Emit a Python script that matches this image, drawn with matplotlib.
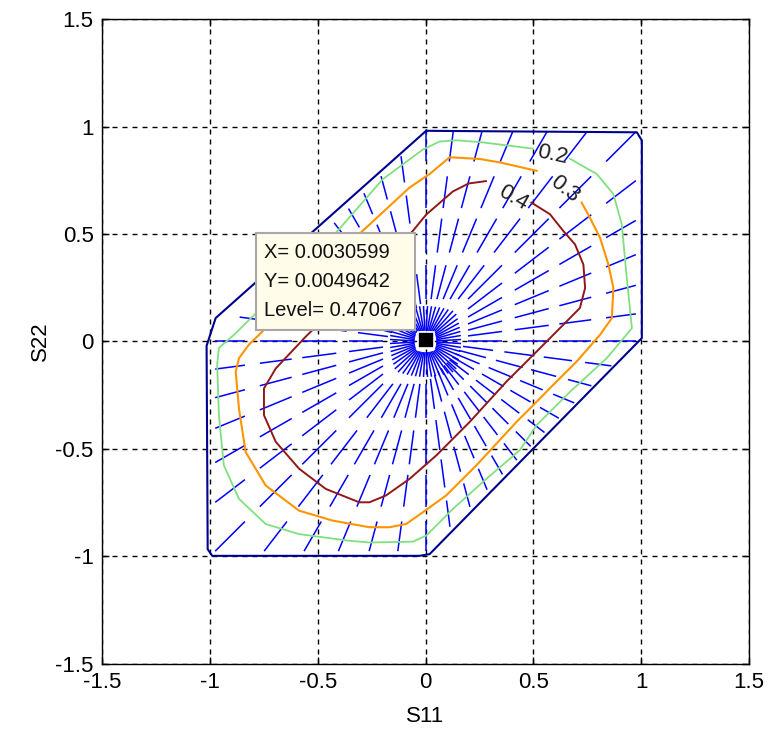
import numpy as np
import matplotlib
matplotlib.use("Agg")
import matplotlib.pyplot as plt
from matplotlib.collections import LineCollection
from matplotlib.patches import Rectangle

plt.rcParams['font.family'] = ['Liberation Sans', 'DejaVu Sans']

# ---- data ----
# outer (domain) boundary
bound_x = [0.003, 0.98, 1.003, 1.003, 0.019, -0.028, -0.989, -1.01, -1.015, -0.973, 0.003]
bound_y = [0.98, 0.973, 0.935, 0.016, -0.989, -0.997, -0.997, -0.966, -0.02, 0.109, 0.98]

# level 0.2 contour (gap where the label sits)
c02_x = [0.670, 0.794, 0.871, 0.910, 0.933, 0.957, 0.84, 0.670, 0.515, 0.437, 0.282, 0.127,
         0.003, -0.059, -0.26, -0.353, -0.586, -0.741, -0.865, -0.935, -0.958, -0.966, -0.958,
         -0.886, -0.793, -0.415, -0.199, -0.012, 0.065, 0.143, 0.267, 0.498]
c02_y = [0.850, 0.779, 0.686, 0.545, 0.296, 0.062, -0.078, -0.234, -0.389, -0.506, -0.639, -0.779,
         -0.903, -0.931, -0.935, -0.927, -0.896, -0.849, -0.732, -0.576, -0.343, -0.109, -0.03,
         0.033, 0.125, 0.506, 0.754, 0.893, 0.93, 0.936, 0.926, 0.897]

# level 0.3 contour
c03_x = [0.724, 0.760, 0.809, 0.848, 0.871, 0.864, 0.809, 0.701, 0.592, 0.484, 0.422, 0.236,
         0.096, -0.012, -0.09, -0.167, -0.26, -0.431, -0.586, -0.741, -0.834, -0.865, -0.880,
         -0.865, -0.819, -0.764, -0.292, -0.074, 0.019, 0.112, 0.251, 0.344, 0.515]
c03_y = [0.646, 0.580, 0.483, 0.358, 0.249, 0.109, 0.031, -0.093, -0.202, -0.312, -0.374, -0.576,
         -0.716, -0.794, -0.849, -0.864, -0.864, -0.833, -0.787, -0.670, -0.514, -0.312, -0.140,
         -0.078, -0.015, 0.039, 0.514, 0.716, 0.779, 0.857, 0.849, 0.833, 0.794]

# level 0.4 contour
c04_x = [0.491, 0.577, 0.639, 0.693, 0.732, 0.740, 0.716, 0.639, 0.515, 0.375, 0.205, 0.05,
         -0.074, -0.183, -0.26, -0.307, -0.462, -0.586, -0.694, -0.749, -0.749, -0.694, -0.555,
         -0.059, 0.003, 0.127, 0.20, 0.28]
c04_y = [0.646, 0.592, 0.514, 0.452, 0.358, 0.249, 0.156, 0.078, -0.047, -0.187, -0.374, -0.53,
         -0.639, -0.716, -0.748, -0.748, -0.686, -0.592, -0.467, -0.343, -0.218, -0.125, 0.023,
         0.514, 0.59, 0.698, 0.735, 0.746]

contour_levels = ['0.2', '0.3', '0.4']
label_x = [0.586, 0.647, 0.405]
label_y = [0.869, 0.708, 0.668]
label_rot = [-12, -38, -30]

# gradient-segment sampling (rays and rings, fractions of the distance to the boundary)
n_rays = 48
ring_inner = [0.20, 0.42, 0.63, 0.85]
ring_outer = [0.36, 0.58, 0.78, 0.99]
n_center_rays = 56
center_r = [0.05, 0.165]

# data tip
tip_x, tip_y, tip_level = 0.0030599, 0.0049642, 0.47067

# ---- figure ----
fig = plt.figure(figsize=(7.68, 7.34), dpi=100)
ax = fig.add_axes([0.1328, 0.0954, 0.8425, 0.8787])
ax.set_xlim(-1.5, 1.5)
ax.set_ylim(-1.5, 1.5)
ticks = [-1.5, -1, -0.5, 0, 0.5, 1, 1.5]
tick_lbl = ['-1.5', '-1', '-0.5', '0', '0.5', '1', '1.5']
ax.set_xticks(ticks)
ax.set_xticklabels(tick_lbl)
ax.set_yticks(ticks)
ax.set_yticklabels(tick_lbl)
ax.tick_params(direction='in', length=5, width=1, labelsize=16, top=True, right=True, pad=6)
for s in ax.spines.values():
    s.set_linewidth(1.0)
ax.grid(True, color='black', linestyle=(0, (3.6, 3.6)), linewidth=1.0)
ax.set_axisbelow(True)
ax.set_xlabel('S11', fontsize=16, labelpad=9)
ax.set_ylabel('S22', fontsize=16, labelpad=3)

# blue gradient segments
bd = 0.985
segs = []
for k in range(n_rays):
    th = 2 * np.pi * k / n_rays
    c, s = np.cos(th), np.sin(th)
    rb = bd / max(abs(c), abs(s), abs(c - s))
    for a, b in zip(ring_inner, ring_outer):
        segs.append([(a * rb * c, a * rb * s), (b * rb * c, b * rb * s)])
for k in range(n_center_rays):
    th = 2 * np.pi * (k + 0.5) / n_center_rays
    c, s = np.cos(th), np.sin(th)
    sq = 1.0 / max(abs(c), abs(s)) ** 0.5
    segs.append([(center_r[0] * sq * c, center_r[0] * sq * s),
                 (center_r[1] * sq * c, center_r[1] * sq * s)])
ax.add_collection(LineCollection(segs, colors='#0000ff', linewidths=1.1, zorder=3))

# boundary and contours
ax.plot(bound_x, bound_y, color='#00008f', lw=1.5, zorder=4)
ax.plot(c02_x, c02_y, color='#80e080', lw=1.3, zorder=4)
ax.plot(c03_x, c03_y, color='#ff9400', lw=1.5, zorder=4)
ax.plot(c04_x, c04_y, color='#901818', lw=1.4, zorder=4)
for t, x, y, r in zip(contour_levels, label_x, label_y, label_rot):
    ax.text(x, y, t, fontsize=16, rotation=r, ha='center', va='center', color='#202020', zorder=5)

# data tip marker and box
ax.plot([tip_x], [tip_y], marker='s', markersize=11, color='black', markeredgecolor='white',
        markeredgewidth=1.2, zorder=6)
ax.add_patch(Rectangle((-0.786, 0.053), 0.737, 0.452, facecolor='#fffcea', edgecolor='#a8a8a8',
                       linewidth=1.5, zorder=7))
tip_lines = ['X= %.7f' % tip_x, 'Y= %.7f' % tip_y, 'Level= %.5f' % tip_level]
for i, line in enumerate(tip_lines):
    ax.text(-0.748, 0.416 - 0.135 * i, line, fontsize=14.5, ha='left', va='center',
            color='#111111', zorder=8)

fig.savefig('out.png', dpi=100)
